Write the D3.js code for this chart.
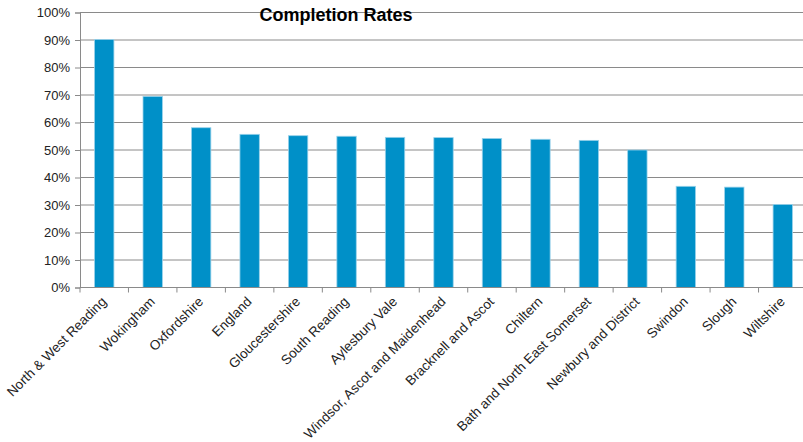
<!DOCTYPE html>
<html><head><meta charset="utf-8">
<script src="https://cdn.jsdelivr.net/npm/d3@7"></script>
<style>body{margin:0;background:#fff;}svg{display:block;font-family:"Liberation Sans",Arial,sans-serif;}</style>
</head><body>
<svg id="c" width="803" height="442"></svg>
<script>
const categories = ["North & West Reading","Wokingham","Oxfordshire","England","Gloucestershire","South Reading","Aylesbury Vale","Windsor, Ascot and Maidenhead","Bracknell and Ascot","Chiltern","Bath and North East Somerset","Newbury and District","Swindon","Slough","Wiltshire"];
const rates = [90.2,69.5,58.1,55.7,55.2,55.0,54.6,54.5,54.2,53.9,53.5,50.0,36.8,36.5,30.2];
const yTicks = [0,10,20,30,40,50,60,70,80,90,100];
const title = "Completion Rates";

const svg = d3.select("#c");
const mLeft = 80, mRight = 807, mTop = 12.5, mBottom = 287.5;
const x = d3.scaleBand().domain(categories).range([mLeft, mRight]).paddingInner(0.6).paddingOuter(0.3);
const y = d3.scaleLinear().domain([0,100]).range([mBottom, mTop]);

// gridlines
svg.append("g").selectAll("line").data(yTicks.filter(d=>d>0)).join("line")
  .attr("x1", mLeft).attr("x2", 803).attr("y1", d=>y(d)).attr("y2", d=>y(d))
  .attr("stroke", "#8a8a8a").attr("stroke-width", 1);

// y axis
const yAxis = svg.append("g").attr("transform", `translate(${mLeft},0)`)
  .call(d3.axisLeft(y).tickValues(yTicks).tickFormat(d=>d+"%").tickSize(5).tickPadding(5));
yAxis.select(".domain").attr("stroke","#8a8a8a");
yAxis.selectAll(".tick line").attr("stroke","#8a8a8a");
yAxis.selectAll("text").attr("font-size","13px").attr("fill","#222").attr("font-family","Liberation Sans, Arial, sans-serif");

// bars
const band = x.step();
svg.append("g").selectAll("rect").data(categories).join("rect")
  .attr("x", d=>x(d)).attr("width", x.bandwidth())
  .attr("y", (d,i)=>y(rates[i])).attr("height", (d,i)=>mBottom - y(rates[i]))
  .attr("fill", "#0090c8").attr("stroke","#9ad2ea").attr("stroke-width",0.8);

// x axis
const xAxis = svg.append("g").attr("transform", `translate(0,${mBottom})`);
xAxis.append("line").attr("x1", mLeft).attr("x2", 803).attr("y1",0).attr("y2",0).attr("stroke","#8a8a8a");
const tickPos = d3.range(categories.length+1).map(i=>mLeft + i*band);
xAxis.selectAll("line.t").data(tickPos).join("line").attr("class","t")
  .attr("x1", d=>d).attr("x2", d=>d).attr("y1",0).attr("y2",5).attr("stroke","#8a8a8a");
xAxis.selectAll("text").data(categories).join("text")
  .attr("text-anchor","end")
  .attr("transform", d=>`translate(${x(d)+x.bandwidth()/2+3},${15}) rotate(-45)`)
  .attr("font-size","13.5px").attr("fill","#222")
  .text(d=>d);

svg.append("text").attr("x", 336).attr("y", 21).attr("text-anchor","middle")
  .attr("font-size","18px").attr("font-weight","bold").attr("fill","#000").text(title);
</script>
</body></html>
